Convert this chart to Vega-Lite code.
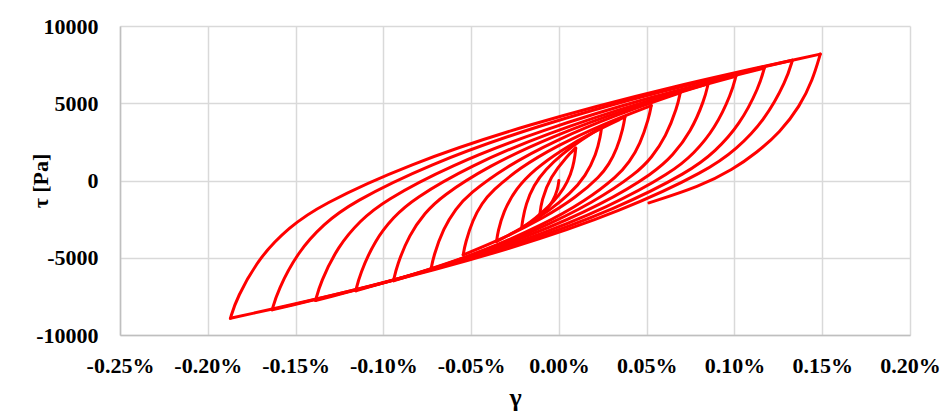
{
  "$schema": "https://vega.github.io/schema/vega-lite/v6.json",
  "width": 790,
  "height": 309,
  "autosize": {"type": "none"},
  "padding": {"left": 120, "top": 26, "right": 35, "bottom": 77},
  "background": "white",
  "config": {"view": {"stroke": null}},
  "data": {"values": [
    {"b":0,"i":0,"g":0,"t":0},{"b":0,"i":5,"g":-0.0006,"t":-552},{"b":0,"i":30,"g":-0.0033,"t":-1368},{"b":0,"i":75,"g":-0.0083,"t":-2066},{"b":0,"i":100,"g":-0.0110,"t":-2350},
    {"b":1,"i":0,"g":-0.0110,"t":-2350},{"b":1,"i":5,"g":-0.0100,"t":-1304},{"b":1,"i":30,"g":-0.0048,"t":240},{"b":1,"i":75,"g":0.0045,"t":1562},{"b":1,"i":100,"g":0.0096,"t":2100},
    {"b":2,"i":0,"g":0.0096,"t":2100},{"b":2,"i":1,"g":0.0093,"t":1711},{"b":2,"i":5,"g":0.0081,"t":883},{"b":2,"i":15,"g":0.0050,"t":-107},{"b":2,"i":30,"g":0.0004,"t":-915},{"b":2,"i":50,"g":-0.0058,"t":-1692},{"b":2,"i":75,"g":-0.0135,"t":-2453},{"b":2,"i":100,"g":-0.0212,"t":-3080},
    {"b":3,"i":0,"g":-0.0212,"t":-3080},{"b":3,"i":1,"g":-0.0207,"t":-2591},{"b":3,"i":5,"g":-0.0189,"t":-1548},{"b":3,"i":15,"g":-0.0144,"t":-302},{"b":3,"i":30,"g":-0.0076,"t":715},{"b":3,"i":50,"g":0.0016,"t":1693},{"b":3,"i":75,"g":0.0129,"t":2651},{"b":3,"i":100,"g":0.0243,"t":3440},
    {"b":4,"i":0,"g":0.0243,"t":3440},{"b":4,"i":1,"g":0.0237,"t":2886},{"b":4,"i":5,"g":0.0213,"t":1703},{"b":4,"i":15,"g":0.0153,"t":292},{"b":4,"i":30,"g":0.0064,"t":-861},{"b":4,"i":50,"g":-0.0056,"t":-1969},{"b":4,"i":75,"g":-0.0206,"t":-3056},{"b":4,"i":100,"g":-0.0355,"t":-3950},
    {"b":5,"i":0,"g":-0.0355,"t":-3950},{"b":5,"i":1,"g":-0.0348,"t":-3345},{"b":5,"i":5,"g":-0.0318,"t":-2056},{"b":5,"i":15,"g":-0.0245,"t":-516},{"b":5,"i":30,"g":-0.0136,"t":741},{"b":5,"i":50,"g":0.0011,"t":1950},{"b":5,"i":75,"g":0.0193,"t":3135},{"b":5,"i":100,"g":0.0376,"t":4110},
    {"b":6,"i":0,"g":0.0376,"t":4110},{"b":6,"i":1,"g":0.0367,"t":3441},{"b":6,"i":5,"g":0.0330,"t":2014},{"b":6,"i":10,"g":0.0284,"t":1033},{"b":6,"i":15,"g":0.0238,"t":310},{"b":6,"i":30,"g":0.0100,"t":-1081},{"b":6,"i":50,"g":-0.0085,"t":-2419},{"b":6,"i":75,"g":-0.0315,"t":-3731},{"b":6,"i":100,"g":-0.0545,"t":-4810},
    {"b":7,"i":0,"g":-0.0545,"t":-4810},{"b":7,"i":1,"g":-0.0534,"t":-4085},{"b":7,"i":5,"g":-0.0491,"t":-2540},{"b":7,"i":10,"g":-0.0438,"t":-1477},{"b":7,"i":15,"g":-0.0384,"t":-695},{"b":7,"i":30,"g":-0.0224,"t":812},{"b":7,"i":50,"g":-0.0010,"t":2261},{"b":7,"i":75,"g":0.0258,"t":3681},{"b":7,"i":100,"g":0.0526,"t":4850},
    {"b":8,"i":0,"g":0.0526,"t":4850},{"b":8,"i":1,"g":0.0513,"t":4053},{"b":8,"i":5,"g":0.0463,"t":2352},{"b":8,"i":10,"g":0.0401,"t":1183},{"b":8,"i":15,"g":0.0338,"t":322},{"b":8,"i":30,"g":0.0150,"t":-1337},{"b":8,"i":50,"g":-0.0102,"t":-2931},{"b":8,"i":75,"g":-0.0415,"t":-4494},{"b":8,"i":100,"g":-0.0729,"t":-5780},
    {"b":9,"i":0,"g":-0.0729,"t":-5780},{"b":9,"i":1,"g":-0.0715,"t":-4920},{"b":9,"i":5,"g":-0.0658,"t":-3087},{"b":9,"i":10,"g":-0.0587,"t":-1826},{"b":9,"i":15,"g":-0.0516,"t":-898},{"b":9,"i":30,"g":-0.0303,"t":890},{"b":9,"i":50,"g":-0.0019,"t":2609},{"b":9,"i":75,"g":0.0336,"t":4293},{"b":9,"i":100,"g":0.0691,"t":5680},
    {"b":10,"i":0,"g":0.0691,"t":5680},{"b":10,"i":1,"g":0.0675,"t":4767},{"b":10,"i":5,"g":0.0609,"t":2820},{"b":10,"i":10,"g":0.0528,"t":1481},{"b":10,"i":15,"g":0.0446,"t":496},{"b":10,"i":30,"g":0.0201,"t":-1403},{"b":10,"i":50,"g":-0.0126,"t":-3228},{"b":10,"i":75,"g":-0.0534,"t":-5017},{"b":10,"i":100,"g":-0.0942,"t":-6490},
    {"b":11,"i":0,"g":-0.0942,"t":-6490},{"b":11,"i":1,"g":-0.0924,"t":-5534},{"b":11,"i":5,"g":-0.0852,"t":-3496},{"b":11,"i":10,"g":-0.0763,"t":-2095},{"b":11,"i":15,"g":-0.0673,"t":-1063},{"b":11,"i":30,"g":-0.0404,"t":925},{"b":11,"i":50,"g":-0.0046,"t":2836},{"b":11,"i":75,"g":0.0402,"t":4708},{"b":11,"i":100,"g":0.0850,"t":6250},
    {"b":12,"i":0,"g":0.0850,"t":6250},{"b":12,"i":1,"g":0.0830,"t":5246},{"b":12,"i":5,"g":0.0750,"t":3103},{"b":12,"i":10,"g":0.0649,"t":1630},{"b":12,"i":15,"g":0.0549,"t":546},{"b":12,"i":30,"g":0.0248,"t":-1543},{"b":12,"i":50,"g":-0.0154,"t":-3551},{"b":12,"i":75,"g":-0.0655,"t":-5520},{"b":12,"i":100,"g":-0.1157,"t":-7140},
    {"b":13,"i":0,"g":-0.1157,"t":-7140},{"b":13,"i":1,"g":-0.1135,"t":-6098},{"b":13,"i":5,"g":-0.1049,"t":-3876},{"b":13,"i":10,"g":-0.0941,"t":-2348},{"b":13,"i":15,"g":-0.0832,"t":-1223},{"b":13,"i":30,"g":-0.0508,"t":944},{"b":13,"i":50,"g":-0.0075,"t":3027},{"b":13,"i":75,"g":0.0467,"t":5069},{"b":13,"i":100,"g":0.1008,"t":6750},
    {"b":14,"i":0,"g":0.1008,"t":6750},{"b":14,"i":1,"g":0.0984,"t":5661},{"b":14,"i":5,"g":0.0888,"t":3338},{"b":14,"i":10,"g":0.0769,"t":1741},{"b":14,"i":15,"g":0.0649,"t":564},{"b":14,"i":30,"g":0.0290,"t":-1701},{"b":14,"i":50,"g":-0.0189,"t":-3879},{"b":14,"i":75,"g":-0.0788,"t":-6013},{"b":14,"i":100,"g":-0.1386,"t":-7770},
    {"b":15,"i":0,"g":-0.1386,"t":-7770},{"b":15,"i":1,"g":-0.1360,"t":-6642},{"b":15,"i":5,"g":-0.1258,"t":-4236},{"b":15,"i":10,"g":-0.1130,"t":-2581},{"b":15,"i":15,"g":-0.1003,"t":-1363},{"b":15,"i":30,"g":-0.0619,"t":983},{"b":15,"i":50,"g":-0.0108,"t":3239},{"b":15,"i":75,"g":0.0531,"t":5450},{"b":15,"i":100,"g":0.1170,"t":7270},
    {"b":16,"i":0,"g":0.1170,"t":7270},{"b":16,"i":1,"g":0.1142,"t":6097},{"b":16,"i":5,"g":0.1030,"t":3595},{"b":16,"i":10,"g":0.0890,"t":1874},{"b":16,"i":15,"g":0.0750,"t":607},{"b":16,"i":30,"g":0.0329,"t":-1832},{"b":16,"i":50,"g":-0.0232,"t":-4178},{"b":16,"i":75,"g":-0.0932,"t":-6478},{"b":16,"i":100,"g":-0.1633,"t":-8370},
    {"b":17,"i":0,"g":-0.1633,"t":-8370},{"b":17,"i":1,"g":-0.1603,"t":-7159},{"b":17,"i":5,"g":-0.1485,"t":-4575},{"b":17,"i":10,"g":-0.1337,"t":-2798},{"b":17,"i":15,"g":-0.1189,"t":-1490},{"b":17,"i":30,"g":-0.0744,"t":1029},{"b":17,"i":50,"g":-0.0152,"t":3452},{"b":17,"i":75,"g":0.0589,"t":5826},{"b":17,"i":100,"g":0.1330,"t":7780},
    {"b":18,"i":0,"g":0.1330,"t":7780},{"b":18,"i":1,"g":0.1298,"t":6527},{"b":18,"i":5,"g":0.1170,"t":3855},{"b":18,"i":10,"g":0.1010,"t":2018},{"b":18,"i":15,"g":0.0850,"t":666},{"b":18,"i":30,"g":0.0370,"t":-1939},{"b":18,"i":50,"g":-0.0271,"t":-4444},{"b":18,"i":75,"g":-0.1071,"t":-6899},{"b":18,"i":100,"g":-0.1871,"t":-8920},
    {"b":19,"i":0,"g":-0.1871,"t":-8920},{"b":19,"i":1,"g":-0.1837,"t":-7637},{"b":19,"i":5,"g":-0.1703,"t":-4901},{"b":19,"i":10,"g":-0.1535,"t":-3020},{"b":19,"i":15,"g":-0.1367,"t":-1635},{"b":19,"i":30,"g":-0.0863,"t":1032},{"b":19,"i":50,"g":-0.0191,"t":3597},{"b":19,"i":75,"g":0.0649,"t":6111},{"b":19,"i":100,"g":0.1489,"t":8180},
    {"b":20,"i":0,"g":0.1489,"t":8180},{"b":20,"i":1,"g":0.1446,"t":6520},{"b":20,"i":2,"g":0.1372,"t":4790},{"b":20,"i":3,"g":0.1259,"t":3110},{"b":20,"i":4,"g":0.1128,"t":1810},{"b":20,"i":5,"g":0.0991,"t":710},{"b":20,"i":6,"g":0.0803,"t":-390},{"b":20,"i":7,"g":0.0513,"t":-1450}
  ]},
  "mark": {"type": "line", "color": "#ff0000", "strokeWidth": 3, "strokeCap": "round", "strokeJoin": "round", "interpolate": "basis"},
  "encoding": {
    "x": {
      "field": "g", "type": "quantitative",
      "scale": {"domain": [-0.25, 0.2], "nice": false, "zero": false},
      "axis": {
        "title": "γ",
        "values": [-0.25, -0.2, -0.15, -0.1, -0.05, 0, 0.05, 0.1, 0.15, 0.2],
        "labelExpr": "replace(format(datum.value, '.2f'), '\u2212', '-') + '%'",
        "ticks": false, "labelPadding": 20, "labelFlush": false, "labelOverlap": false,
        "labelFont": "Liberation Serif", "labelFontSize": 22, "labelFontWeight": "bold", "labelColor": "#000000",
        "grid": true, "gridColor": "#d9d9d9", "gridWidth": 1.5, "domainColor": "#bfbfbf", "domainWidth": 1.5,
        "titleFont": "Liberation Serif", "titleFontSize": 26, "titleFontWeight": "bold", "titleColor": "#000000",
        "titleX": 395, "titleY": 62, "titleBaseline": "middle", "titleAlign": "center"
      }
    },
    "y": {
      "field": "t", "type": "quantitative",
      "scale": {"domain": [-10000, 10000], "nice": false},
      "axis": {
        "title": "τ [Pa]",
        "values": [-10000, -5000, 0, 5000, 10000],
        "labelExpr": "datum.value + ''",
        "ticks": false, "labelPadding": 22, "labelFlush": false, "labelOverlap": false,
        "labelFont": "Liberation Serif", "labelFontSize": 22, "labelFontWeight": "bold", "labelColor": "#000000",
        "grid": true, "gridColor": "#d9d9d9", "gridWidth": 1.5, "domainColor": "#bfbfbf", "domainWidth": 1.5,
        "titleFont": "Liberation Serif", "titleFontSize": 22, "titleFontWeight": "bold", "titleColor": "#000000",
        "titleX": -80, "titleY": 154.5, "titleAngle": -90, "titleBaseline": "middle", "titleAlign": "center"
      }
    },
    "detail": {"field": "b", "type": "nominal"},
    "order": {"field": "i", "type": "quantitative"}
  }
}
